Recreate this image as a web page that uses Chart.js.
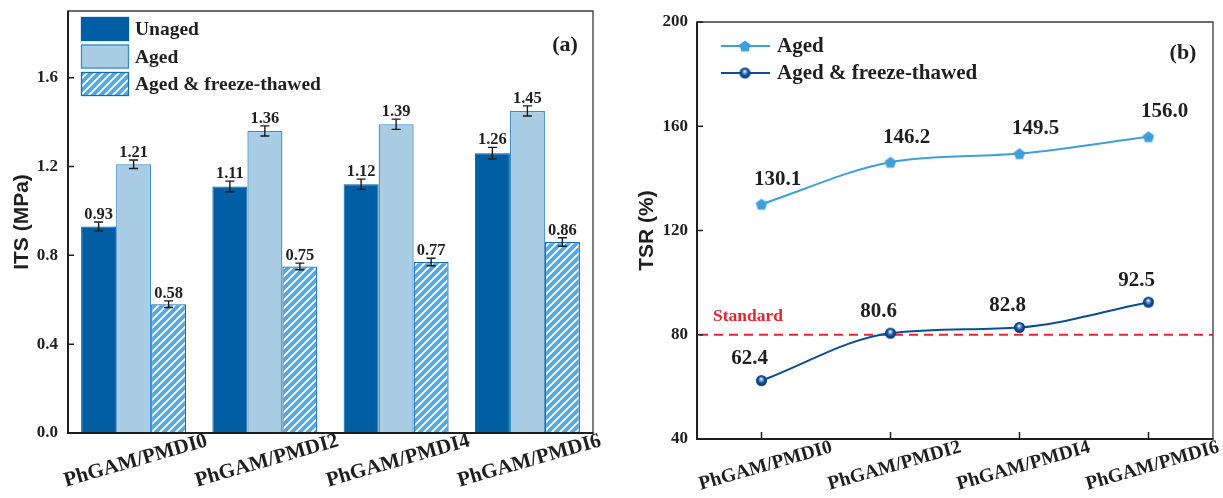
<!DOCTYPE html>
<html>
<head>
<meta charset="utf-8">
<script src="https://cdn.jsdelivr.net/npm/chart.js@4.4.1/dist/chart.umd.min.js"></script>
<style>
  html, body { margin: 0; padding: 0; background: #fff; }
  #wrap { position: relative; width: 1223px; height: 498px; overflow: hidden; }
  #its { position: absolute; left: 0; top: 0; }
  #tsr { position: absolute; left: 610px; top: 0; }
</style>
</head>
<body>
<div id="wrap">
  <canvas id="its" width="610" height="498"></canvas>
  <canvas id="tsr" width="613" height="498"></canvas>
</div>
<script>
// ---- data ----
const categories = ['PhGAM/PMDI0', 'PhGAM/PMDI2', 'PhGAM/PMDI4', 'PhGAM/PMDI6'];

// indirect tensile strength, MPa
const itsUnaged = [0.93, 1.11, 1.12, 1.26];
const itsAged   = [1.21, 1.36, 1.39, 1.45];
const itsFreeze = [0.58, 0.75, 0.77, 0.86];
const errUnaged = [0.020, 0.024, 0.023, 0.026];
const errAged   = [0.019, 0.023, 0.023, 0.023];
const errFreeze = [0.015, 0.015, 0.017, 0.019];
const itsTicks  = [0.0, 0.4, 0.8, 1.2, 1.6];

// tensile strength ratio, %
const tsrAged   = [130.1, 146.2, 149.5, 156.0];
const tsrFreeze = [62.4, 80.6, 82.8, 92.5];
const tsrTicks  = [40, 80, 120, 160, 200];
const tsrStandard = 80;

// ---- styling helpers ----
const SERIF = '"Liberation Serif", "Times New Roman", serif';
const SANS  = '"Liberation Sans", Arial, sans-serif';
const INK = '#1f1f1f';

const C_UNAGED = '#005EA4';
const C_AGED = '#A9CDE4';
const C_AGED_EDGE = '#3A8CCB';
const C_HATCH_BG = '#58A6DC';
const C_HATCH_EDGE = '#1C6CB4';
const C_LINE_AGED = '#3E9FDA';
const C_LINE_FREEZE = '#0B4D93';
const C_STANDARD = '#E3262F';

function makeHatch(ctx) {
  const s = 8;
  const c = document.createElement('canvas');
  c.width = s; c.height = s;
  const g = c.getContext('2d');
  g.fillStyle = C_HATCH_BG;
  g.fillRect(0, 0, s, s);
  g.strokeStyle = '#ffffff';
  g.lineWidth = 1.8;
  g.beginPath();
  g.moveTo(-1, s + 1); g.lineTo(s + 1, -1);
  g.moveTo(-1, 1); g.lineTo(1, -1);
  g.moveTo(s - 1, s + 1); g.lineTo(s + 1, s - 1);
  g.stroke();
  return ctx.createPattern(c, 'repeat');
}

function makePentagon(r, color) {
  const s = Math.ceil(r * 2 + 2);
  const c = document.createElement('canvas');
  c.width = s; c.height = s;
  const g = c.getContext('2d');
  const cx = s / 2, cy = s / 2 + r * 0.1;
  g.fillStyle = color;
  g.beginPath();
  for (let i = 0; i < 5; i++) {
    const a = -Math.PI / 2 + i * 2 * Math.PI / 5;
    const px = cx + r * Math.cos(a), py = cy + r * Math.sin(a);
    if (i === 0) g.moveTo(px, py); else g.lineTo(px, py);
  }
  g.closePath();
  g.fill();
  return c;
}

function makeBall(r) {
  const s = Math.ceil(r * 2 + 2);
  const c = document.createElement('canvas');
  c.width = s; c.height = s;
  const g = c.getContext('2d');
  const cx = s / 2, cy = s / 2;
  const grad = g.createRadialGradient(cx - 0.3, cy - 1.8, 0.2, cx, cy, r);
  grad.addColorStop(0, '#ffffff');
  grad.addColorStop(0.25, '#7FA8D6');
  grad.addColorStop(0.6, '#0E4F98');
  grad.addColorStop(1, '#07386F');
  g.fillStyle = grad;
  g.beginPath();
  g.arc(cx, cy, r, 0, Math.PI * 2);
  g.fill();
  return c;
}

// frame: box, inward ticks, rotated category labels, axis title, panel tag
function framePlugin(cfg) {
  return {
    id: 'frame',
    afterDraw(chart) {
      const { ctx, chartArea: a, scales } = chart;
      const xs = scales.x, ys = scales.y;
      ctx.save();
      // top / right borders
      ctx.strokeStyle = '#3a3a3a';
      ctx.lineWidth = 1.3;
      ctx.beginPath();
      ctx.moveTo(a.left, a.top); ctx.lineTo(a.right, a.top); ctx.lineTo(a.right, a.bottom);
      ctx.stroke();
      // left / bottom axes
      ctx.strokeStyle = INK;
      ctx.lineWidth = 2;
      ctx.beginPath();
      ctx.moveTo(a.left, a.top - 0.6); ctx.lineTo(a.left, a.bottom); ctx.lineTo(a.right + 0.6, a.bottom);
      ctx.stroke();
      // inward y ticks
      ctx.lineWidth = 1.5;
      ctx.beginPath();
      ys.ticks.forEach(t => {
        const y = ys.getPixelForValue(t.value);
        ctx.moveTo(a.left, y); ctx.lineTo(a.left + cfg.yTickLen, y);
      });
      // inward x ticks
      if (cfg.xTickLen) {
        categories.forEach((c, i) => {
          const x = xs.getPixelForValue(i);
          ctx.moveTo(x, a.bottom); ctx.lineTo(x, a.bottom - cfg.xTickLen);
        });
      }
      ctx.stroke();
      // category labels
      ctx.fillStyle = INK;
      ctx.font = 'bold ' + cfg.xFont + 'px ' + SERIF;
      ctx.textAlign = 'center';
      ctx.textBaseline = 'middle';
      categories.forEach((c, i) => {
        const x = xs.getPixelForValue(i) + cfg.xLabelDx;
        ctx.save();
        ctx.translate(x, a.bottom + cfg.xLabelDy);
        ctx.rotate(-cfg.xAngle * Math.PI / 180);
        ctx.fillText(c, 0, 0);
        ctx.restore();
      });
      // axis title
      ctx.font = 'bold ' + cfg.titleFont + 'px ' + SANS;
      ctx.save();
      ctx.translate(cfg.titleX, (a.top + a.bottom) / 2);
      ctx.rotate(-Math.PI / 2);
      ctx.fillText(cfg.title, 0, 0);
      ctx.restore();
      // panel tag
      ctx.font = 'bold 22px ' + SERIF;
      ctx.fillText(cfg.tag, cfg.tagX, cfg.tagY);
      ctx.restore();
    }
  };
}

// fixed axis box sizes so the plot area sits where intended
function fixedWidth(w) {
  return s => { s.width = w; s.paddingTop = 0; s.paddingBottom = 0; };
}
function fixedHeight(h) {
  return s => { s.height = h; s.paddingLeft = 0; s.paddingRight = 0; };
}

// ---- (a) ITS bar chart ----
const ctxA = document.getElementById('its').getContext('2d');
const hatch = makeHatch(ctxA);

const barExtras = {
  id: 'barExtras',
  afterDatasetsDraw(chart) {
    const { ctx, scales: { y } } = chart;
    ctx.save();
    chart.data.datasets.forEach((ds, di) => {
      const meta = chart.getDatasetMeta(di);
      meta.data.forEach((bar, i) => {
        const v = ds.data[i], e = ds.errors[i];
        const yt = y.getPixelForValue(v + e), yb = y.getPixelForValue(v - e);
        const x = bar.x;
        ctx.strokeStyle = '#1a1a1a';
        ctx.lineWidth = 1.4;
        ctx.beginPath();
        ctx.moveTo(x, yt); ctx.lineTo(x, yb);
        ctx.moveTo(x - 4.5, yt); ctx.lineTo(x + 4.5, yt);
        ctx.moveTo(x - 4.5, yb); ctx.lineTo(x + 4.5, yb);
        ctx.stroke();
        ctx.fillStyle = INK;
        ctx.font = 'bold 16.5px ' + SERIF;
        ctx.textAlign = 'center';
        ctx.textBaseline = 'alphabetic';
        ctx.fillText(v.toFixed(2), x, yt - 3);
      });
    });
    ctx.restore();
  }
};

const barLegend = {
  id: 'barLegend',
  afterDraw(chart) {
    const { ctx } = chart;
    const rows = [
      { top: 17, fill: C_UNAGED, edge: C_UNAGED },
      { top: 44.5, fill: C_AGED, edge: C_AGED_EDGE },
      { top: 72, fill: hatch, edge: C_HATCH_EDGE }
    ];
    ctx.save();
    rows.forEach((r, i) => {
      ctx.fillStyle = r.fill;
      ctx.fillRect(81, r.top, 48, 24);
      ctx.strokeStyle = r.edge;
      ctx.lineWidth = 1.3;
      ctx.strokeRect(81.5, r.top + 0.5, 47, 23);
      ctx.fillStyle = INK;
      ctx.font = 'bold 19.5px ' + SERIF;
      ctx.textAlign = 'left';
      ctx.textBaseline = 'middle';
      ctx.fillText(chart.data.datasets[i].label, 135, r.top + 13);
    });
    ctx.restore();
  }
};

new Chart(ctxA, {
  type: 'bar',
  data: {
    labels: categories,
    datasets: [
      { label: 'Unaged', data: itsUnaged, errors: errUnaged,
        backgroundColor: C_UNAGED, borderColor: '#0A5898', borderWidth: 1 },
      { label: 'Aged', data: itsAged, errors: errAged,
        backgroundColor: C_AGED, borderColor: C_AGED_EDGE, borderWidth: 1.3 },
      { label: 'Aged & freeze-thawed', data: itsFreeze, errors: errFreeze,
        backgroundColor: hatch, borderColor: C_HATCH_EDGE, borderWidth: 1.3 }
    ]
  },
  options: {
    responsive: false,
    animation: false,
    events: [],
    layout: { padding: { top: 11, right: 17, left: 0, bottom: 0 } },
    datasets: { bar: { categoryPercentage: 0.8, barPercentage: 1 } },
    plugins: { legend: { display: false }, tooltip: { enabled: false } },
    scales: {
      x: {
        grid: { display: false, drawTicks: false },
        border: { display: false },
        ticks: { display: false },
        afterFit: fixedHeight(65)
      },
      y: {
        min: 0, max: 1.9,
        grid: { display: false, drawTicks: false },
        border: { display: false },
        afterBuildTicks(s) { s.ticks = itsTicks.map(v => ({ value: v })); },
        ticks: {
          padding: 10, color: INK,
          font: { family: SERIF, size: 17, weight: 'bold' },
          callback: v => Number(v).toFixed(1)
        },
        afterFit: fixedWidth(68)
      }
    }
  },
  plugins: [barExtras, barLegend, framePlugin({
    yTickLen: 6, xTickLen: 0, xFont: 21, xAngle: 16, xLabelDx: 2, xLabelDy: 28,
    title: 'ITS (MPa)', titleFont: 21, titleX: 22, tag: '(a)', tagX: 565, tagY: 45
  })]
});

// ---- (b) TSR line chart ----
const ctxB = document.getElementById('tsr').getContext('2d');
const pentagon = makePentagon(6, C_LINE_AGED);
const ball = makeBall(5.5);

const standardLine = {
  id: 'standardLine',
  beforeDatasetsDraw(chart) {
    const { ctx, chartArea: a, scales: { y } } = chart;
    const yy = y.getPixelForValue(tsrStandard);
    ctx.save();
    ctx.strokeStyle = C_STANDARD;
    ctx.lineWidth = 1.8;
    ctx.setLineDash([9, 6]);
    ctx.beginPath();
    ctx.moveTo(a.left + 2, yy); ctx.lineTo(a.right, yy);
    ctx.stroke();
    ctx.setLineDash([]);
    ctx.fillStyle = C_STANDARD;
    ctx.font = 'bold 17.5px ' + SERIF;
    ctx.textAlign = 'center';
    ctx.textBaseline = 'middle';
    ctx.fillText('Standard', a.left + 51, yy - 18);
    ctx.restore();
  }
};

const pointLabels = {
  id: 'pointLabels',
  afterDatasetsDraw(chart) {
    const { ctx } = chart;
    ctx.save();
    ctx.fillStyle = INK;
    ctx.font = 'bold 21px ' + SERIF;
    ctx.textAlign = 'center';
    ctx.textBaseline = 'middle';
    chart.data.datasets.forEach((ds, di) => {
      const meta = chart.getDatasetMeta(di);
      meta.data.forEach((pt, i) => {
        ctx.fillText(ds.data[i].toFixed(1), pt.x + ds.labelShift[0], pt.y + ds.labelShift[1]);
      });
    });
    ctx.restore();
  }
};

const lineLegend = {
  id: 'lineLegend',
  afterDraw(chart) {
    const { ctx } = chart;
    ctx.save();
    chart.data.datasets.forEach((ds, i) => {
      const y = 46 + i * 27;
      ctx.strokeStyle = ds.borderColor;
      ctx.lineWidth = 2;
      ctx.beginPath();
      ctx.moveTo(111, y); ctx.lineTo(160, y);
      ctx.stroke();
      const img = ds.pointStyle;
      ctx.drawImage(img, 135 - img.width / 2, y - img.height / 2);
      ctx.fillStyle = INK;
      ctx.font = 'bold 21px ' + SERIF;
      ctx.textAlign = 'left';
      ctx.textBaseline = 'middle';
      ctx.fillText(ds.label, 167, y + 1);
    });
    ctx.restore();
  }
};

new Chart(ctxB, {
  type: 'line',
  data: {
    labels: categories,
    datasets: [
      { label: 'Aged', data: tsrAged, labelShift: [16, -25],
        borderColor: C_LINE_AGED, borderWidth: 2, pointStyle: pentagon, pointRadius: 6,
        cubicInterpolationMode: 'monotone', fill: false },
      { label: 'Aged & freeze-thawed', data: tsrFreeze, labelShift: [-12, -22],
        borderColor: C_LINE_FREEZE, borderWidth: 2, pointStyle: ball, pointRadius: 6,
        cubicInterpolationMode: 'monotone', fill: false }
    ]
  },
  options: {
    responsive: false,
    animation: false,
    events: [],
    layout: { padding: { top: 22, right: 10, left: 0, bottom: 0 } },
    plugins: { legend: { display: false }, tooltip: { enabled: false } },
    scales: {
      x: {
        offset: true,
        grid: { display: false, drawTicks: false },
        border: { display: false },
        ticks: { display: false },
        afterFit: fixedHeight(59)
      },
      y: {
        min: 40, max: 200,
        grid: { display: false, drawTicks: false },
        border: { display: false },
        afterBuildTicks(s) { s.ticks = tsrTicks.map(v => ({ value: v })); },
        ticks: {
          padding: 9, color: INK,
          font: { family: SERIF, size: 17, weight: 'bold' }
        },
        afterFit: fixedWidth(87)
      }
    }
  },
  plugins: [standardLine, pointLabels, lineLegend, framePlugin({
    yTickLen: 6, xTickLen: 7, xFont: 19.5, xAngle: 16, xLabelDx: 4, xLabelDy: 27,
    title: 'TSR (%)', titleFont: 21, titleX: 37, tag: '(b)', tagX: 573, tagY: 53
  })]
});
</script>
</body>
</html>
